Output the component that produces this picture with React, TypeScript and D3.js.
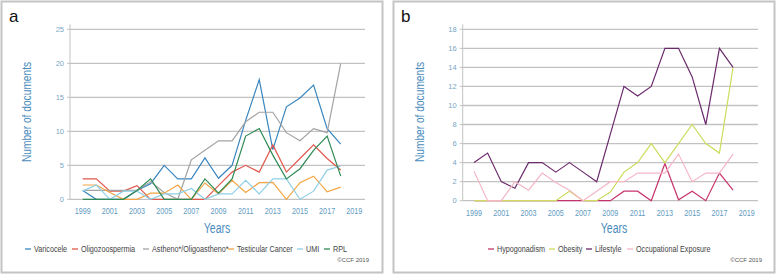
import React from "react";
import * as d3 from "d3";

const years = d3.range(1999, 2019);
const tickYears = [1999, 2001, 2003, 2005, 2007, 2009, 2011, 2013, 2015, 2017, 2019];

// Panel a
const varicocele = [1.3, 0, 0, 0, 1.3, 2.3, 5, 3, 3, 6.1, 3.1, 5, 11.6, 17.6, 7.3, 13.6, 14.9, 16.8, 10.4, 8.1];
const oligozoospermia = [3, 3, 1.2, 1.2, 2, 0, 0, 0, 0, 0, 2, 4, 5, 4, 8, 4, 6, 8, 6, 4.3];
const astheno = [1.3, 1.3, 1.3, 1.3, 1.3, 2.6, 1, 0, 5.8, 7.2, 8.6, 8.6, 11.4, 12.8, 12.8, 9.8, 8.6, 10.4, 9.8, 20];
const testicularCancer = [2.1, 2.1, 1, 0, 0, 0.9, 0.9, 2.1, 0, 2.4, 0.8, 2.8, 1, 2.45, 2.5, 0, 2.45, 3.4, 1.1, 1.8];
const umi = [1.2, 2.1, 0, 1.2, 1.2, 0, 0.8, 0.8, 1.6, 0, 0.8, 0.8, 2.8, 0.8, 3, 3, 0, 1.2, 4.3, 4.9];
const rpl = [0, 0, 0, 0, 1.3, 3, 0, 0, 0, 3, 0.9, 3, 9.3, 10.4, 6.5, 3, 4.5, 7.2, 9.3, 3.4];

// Panel b
const hypogonadism = [0, 0, 0, 0, 0, 0, 0, 0, 0, 0, 0, 1, 1, 0, 3.9, 0.1, 1, 0, 2.9, 1.1];
const obesity = [0, 0, 0, 0, 0, 0, 0, 1, 0, 0, 0.9, 3, 4, 6, 4, 6, 8, 6, 5, 14];
const lifestyle = [4, 5, 2, 1.3, 4, 4, 3, 4, 3, 2, 7, 12, 11, 12, 16, 16, 13, 8, 16, 14];
const occupational = [3.1, 0, 0, 2, 1.1, 2.9, 1.9, 1.1, 0, 1, 2, 2, 2.9, 2.9, 2.9, 4.9, 2, 2.9, 2.9, 4.9];

const seriesA = [
  { name: "Varicocele", values: varicocele, color: "#3a86bf" },
  { name: "Oligozoospermia", values: oligozoospermia, color: "#e0574c" },
  { name: "Astheno*/Oligoastheno*", values: astheno, color: "#a3a3a3" },
  { name: "Testicular Cancer", values: testicularCancer, color: "#f3a443" },
  { name: "UMI", values: umi, color: "#8fcfe6" },
  { name: "RPL", values: rpl, color: "#2f8a55" },
];
const seriesB = [
  { name: "Hypogonadism", values: hypogonadism, color: "#c6346d" },
  { name: "Obesity", values: obesity, color: "#cddc5e" },
  { name: "Lifestyle", values: lifestyle, color: "#6b2a6c" },
  { name: "Occupational Exposure", values: occupational, color: "#f5b6c6" },
];
const yTicksA = [0, 5, 10, 15, 20, 25];
const yTicksB = [0, 2, 4, 6, 8, 10, 12, 14, 16, 18];

const SANS = "'Liberation Sans', Arial, sans-serif";

type S = { name: string; values: number[]; color: string };

function CText(props: { x: number; y: number; sx: number; size: number; fill: string; anchor?: string; rotate?: number; children: React.ReactNode }) {
  const rot = props.rotate ? ` rotate(${props.rotate})` : "";
  return (
    <text transform={`translate(${props.x},${props.y})${rot} scale(${props.sx},1)`} textAnchor={props.anchor || "start"}
      fontFamily={SANS} fontSize={props.size} fill={props.fill}>{props.children}</text>
  );
}

function Panel(props: {
  x0: number; label: string; series: S[]; yTicks: number[]; yMax: number;
  axisX: number; firstX: number; lastX: number; gridEnd: number; yTop: number; yBottom: number;
  legendX: number[]; titleX: number; yTitleX: number; copyX: number;
}) {
  const { series, yTicks, yMax } = props;
  const x = d3.scaleLinear().domain([1999, 2019]).range([props.firstX, props.lastX]);
  const y = d3.scaleLinear().domain([0, yMax]).range([props.yBottom, props.yTop]);
  const line = d3.line<number>().x((_, i) => x(years[i])).y((v) => y(v));
  return (
    <g>
      <rect x={props.x0 + 1.5} y={1.5} width={381} height={271} fill="#fff" stroke="#c4c4c4" strokeWidth={2} />
      <text x={props.x0 + 9} y={22} fontFamily={SANS} fontSize={17} fill="#111">{props.label}</text>
      {yTicks.map((t) => (
        <g key={t}>
          <line x1={props.axisX} x2={props.gridEnd} y1={y(t)} y2={y(t)} stroke="#c2c2c2" strokeWidth={1.3} />
          <line x1={props.axisX - 3} x2={props.axisX} y1={y(t)} y2={y(t)} stroke="#c2c2c2" strokeWidth={1} />
          <text x={props.axisX - 6} y={y(t) + 2.5} textAnchor="end" fontFamily={SANS} fontSize={7.5} fill="#78a6c4">{t}</text>
        </g>
      ))}
      <line x1={props.axisX} x2={props.axisX} y1={props.yTop - 5} y2={props.yBottom} stroke="#c2c2c2" strokeWidth={1} />
      {tickYears.map((t) => (
        <CText key={t} x={x(t)} y={props.yBottom + 15} sx={0.85} anchor="middle" size={8.5} fill="#5f9cc2">{t}</CText>
      ))}
      {series.map((s) => (
        <path key={s.name} d={line(s.values) || ""} fill="none" stroke={s.color} strokeWidth={1.2} />
      ))}
      <CText x={props.titleX} y={233} sx={0.75} anchor="middle" size={14} fill="#4a8cbd">Years</CText>
      <CText x={props.yTitleX} y={112} sx={0.85} rotate={-90} anchor="middle" size={12} fill="#4a8cbd">Number of documents</CText>
      {series.map((s, i) => (
        <g key={s.name}>
          <line x1={props.legendX[i]} x2={props.legendX[i] + 6} y1={249} y2={249} stroke={s.color} strokeWidth={1.3} />
          <CText x={props.legendX[i] + 9} y={252.3} sx={0.76} size={9.5} fill="#444">{s.name}</CText>
        </g>
      ))}
      <text x={props.copyX} y={262} textAnchor="end" fontFamily={SANS} fontSize={6} fill="#555">©CCF 2019</text>
    </g>
  );
}

export default function App() {
  return (
    <svg width={778} height={275} style={{ position: "absolute", left: 0, top: 0 }}>
      <rect width={778} height={275} fill="#fff" />
      <Panel x0={0} label="a" series={seriesA} yTicks={yTicksA} yMax={25}
        axisX={70} firstX={82.7} lastX={354.3} gridEnd={365} yTop={29.3} yBottom={199.3}
        legendX={[25, 72, 143, 228, 297, 324]} titleX={217} yTitleX={31} copyX={369} />
      <Panel x0={392} label="b" series={seriesB} yTicks={yTicksB} yMax={18}
        axisX={462.7} firstX={474} lastX={746.7} gridEnd={758} yTop={29.3} yBottom={200.7}
        legendX={[488, 549, 586, 627]} titleX={614} yTitleX={424} copyX={762} />
    </svg>
  );
}
